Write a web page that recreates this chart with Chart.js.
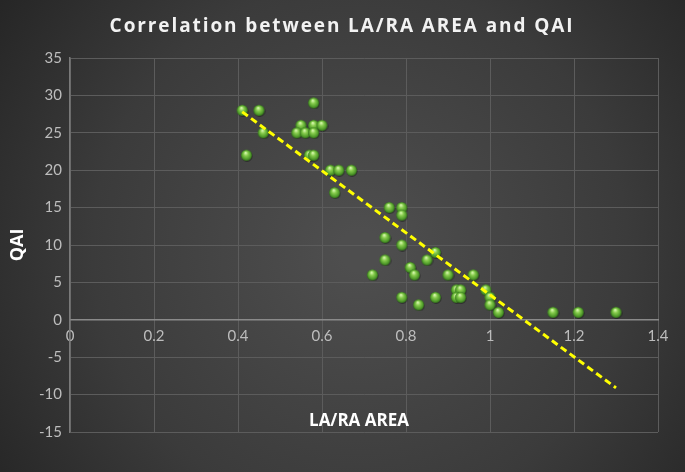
<!DOCTYPE html>
<html>
<head>
<meta charset="utf-8">
<script src="https://cdn.jsdelivr.net/npm/chart.js@4.4.1/dist/chart.umd.min.js"></script>
<style>
    html, body { margin: 0; padding: 0; background: #2b2b2b; }
    #wrap { width: 685px; height: 472px; }
</style>
</head>
<body>
<div id="wrap"><canvas id="myChart_qai"></canvas></div>
<script>
// LA/RA area vs QAI
const xValues = [0.41, 0.45, 0.42, 0.46, 0.58, 0.55, 0.58, 0.60, 0.54, 0.56, 0.58,
    0.57, 0.58, 0.62, 0.64, 0.67, 0.63, 0.76, 0.79, 0.79, 0.75, 0.79, 0.87, 0.75,
    0.85, 0.81, 0.82, 0.72, 0.90, 0.96, 0.79, 0.83, 0.87, 0.92, 0.93, 0.92, 0.93,
    0.99, 1.00, 1.00, 1.02, 1.15, 1.21, 1.30];
const yValues = [28, 28, 22, 25, 29, 26, 26, 26, 25, 25, 25,
    22, 22, 20, 20, 20, 17, 15, 15, 14, 11, 10, 9, 8,
    8, 7, 6, 6, 6, 6, 3, 2, 3, 4, 4, 3, 3,
    4, 3, 2, 1, 1, 1, 1];

// linear trendline end points
const trendX = [0.41, 1.30];
const trendY = [27.8, -9.1];

const xTicks = [0, 0.2, 0.4, 0.6, 0.8, 1, 1.2, 1.4];
const yTicks = [-15, -10, -5, 0, 5, 10, 15, 20, 25, 30, 35];

// green ball marker
function makeBall(size) {
    const c = document.createElement('canvas');
    c.width = size + 2;
    c.height = size + 2;
    const ctx = c.getContext('2d');
    const r = size / 2;
    const cx = r + 1, cy = r + 1;
    // soft shadow
    ctx.fillStyle = 'rgba(0,0,0,0.35)';
    ctx.beginPath();
    ctx.arc(cx + 0.6, cy + 0.9, r, 0, Math.PI * 2);
    ctx.fill();
    const g = ctx.createRadialGradient(cx - r * 0.15, cy - r * 0.45, r * 0.1, cx, cy, r);
    g.addColorStop(0, '#d2f5a8');
    g.addColorStop(0.35, '#86cc4c');
    g.addColorStop(0.8, '#4f9a2a');
    g.addColorStop(1, '#33701a');
    ctx.fillStyle = g;
    ctx.beginPath();
    ctx.arc(cx, cy, r, 0, Math.PI * 2);
    ctx.fill();
    return c;
}
const ball = makeBall(11);

const points = xValues.map((x, i) => ({ x: x, y: yValues[i] }));
const trend = trendX.map((x, i) => ({ x: x, y: trendY[i] }));

const bgPlugin = {
    id: 'bg',
    beforeDraw(chart) {
        const ctx = chart.ctx;
        const w = chart.width, h = chart.height;
        const g = ctx.createRadialGradient(360, 250, 20, 360, 250, 470);
        g.addColorStop(0, '#4e4e4e');
        g.addColorStop(0.55, '#3b3b3b');
        g.addColorStop(1, '#222222');
        ctx.save();
        ctx.fillStyle = g;
        ctx.fillRect(0, 0, w, h);
        ctx.restore();
    },
    afterDraw(chart) {
        const ctx = chart.ctx;
        const area = chart.chartArea;
        ctx.save();
        // chart title
        ctx.fillStyle = '#f2f2f2';
        ctx.font = 'bold 19px "Open Sans"';
        ctx.letterSpacing = '1.9px';
        ctx.textAlign = 'center';
        ctx.textBaseline = 'middle';
        ctx.fillText('Correlation between LA/RA AREA and QAI', 342, 27);
        // x axis title, sits inside the plot like the original
        ctx.letterSpacing = '0px';
        ctx.fillStyle = '#ffffff';
        ctx.font = 'bold 17px "Open Sans"';
        ctx.fillText('LA/RA AREA', (area.left + area.right) / 2 - 5, chart.scales.y.getPixelForValue(-13.5));
        ctx.restore();
    }
};

const config = {
    type: 'scatter',
    data: {
        datasets: [{
            label: 'QAI',
            data: points,
            pointStyle: ball,
            order: 1
        }, {
            type: 'line',
            label: 'Trend',
            data: trend,
            borderColor: '#ffff00',
            borderWidth: 3,
            borderDash: [7, 4],
            pointRadius: 0,
            fill: false,
            order: 0
        }]
    },
    options: {
        responsive: true,
        maintainAspectRatio: false,
        animation: false,
        layout: {
            padding: { left: 0, right: 27, top: 58, bottom: 40 }
        },
        plugins: {
            legend: { display: false },
            tooltip: { enabled: false }
        },
        scales: {
            x: {
                type: 'linear',
                position: { y: 0 },
                min: 0,
                max: 1.4,
                afterBuildTicks(scale) {
                    scale.ticks = xTicks.map(v => ({ value: v }));
                },
                ticks: {
                    color: '#bdbdbd',
                    font: { family: 'Lato', size: 15 },
                    padding: 7,
                    callback: v => String(Math.round(v * 10) / 10)
                },
                grid: { color: '#5c5c5c', lineWidth: 1, drawTicks: false },
                border: { color: '#8a8a8a', width: 1.5 }
            },
            y: {
                type: 'linear',
                position: 'left',
                min: -15,
                max: 35,
                afterBuildTicks(scale) {
                    scale.ticks = yTicks.map(v => ({ value: v }));
                },
                afterFit(scale) {
                    scale.width = 70;
                },
                ticks: {
                    color: '#bdbdbd',
                    font: { family: 'Lato', size: 15 },
                    padding: 8
                },
                grid: { color: '#5c5c5c', lineWidth: 1, drawTicks: false },
                border: { color: '#7a7a7a', width: 1.5 },
                title: {
                    display: true,
                    text: 'QAI',
                    color: '#ffffff',
                    font: { family: 'Open Sans', size: 18, weight: 'bold' },
                    padding: { top: 7, bottom: 0 }
                }
            }
        }
    },
    plugins: [bgPlugin]
};

const myChart = new Chart(
    document.getElementById('myChart_qai'),
    config
);
</script>
</body>
</html>
